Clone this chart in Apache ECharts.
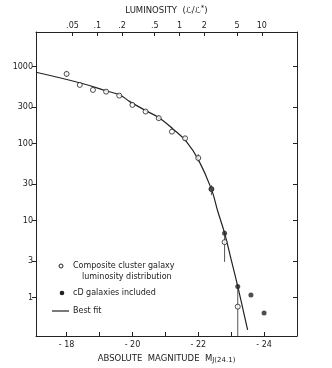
<!DOCTYPE html>
<html>
<head>
<meta charset="utf-8">
<script src="https://cdn.jsdelivr.net/npm/echarts@6/dist/echarts.min.js"></script>
<style>
  html, body { margin: 0; padding: 0; background: #fff; }
  #chart { width: 332px; height: 368px; }
</style>
</head>
<body>
<div id="chart"></div>
<script>
// 星系团合成光度函数 (open) 与含 cD 星系 (filled)
const magBins = [-18.0, -18.4, -18.8, -19.2, -19.6, -20.0, -20.4, -20.8, -21.2, -21.6, -22.0, -22.4, -22.8, -23.2];
const compositeN = [804, 578, 498, 473, 420, 318, 261, 214, 143, 117, 65, 25.6, 5.24, 0.76];
const cdMags = [-22.4, -22.8, -23.2, -23.6, -24.0];
const cdN = [25.6, 6.86, 1.39, 1.08, 0.63];

// 误差棒
const errMags = [-18.0, -20.8, -21.6, -22.0, -22.4, -22.8, -23.2];
const errLow = [740, 198, 108, 58, 21.4, 2.9, 0.316];
const errHigh = [870, 232, 126, 73, 28.8, 7.4, 1.39];

// 最佳拟合曲线
const fitM = [-17.07, -18.45, -19.24, -19.62, -19.92, -20.42, -20.83, -21.23, -21.64, -22.01, -22.4, -22.59, -22.8, -23.0, -23.2, -23.5];
const fitN = [845, 608, 479, 428, 351, 266, 214, 155, 106, 61, 25.6, 13.3, 6.86, 3.1, 1.39, 0.38];

// 坐标刻度
const magTicks = [-24, -23, -22, -21, -20, -19, -18];
const magLabels = [-24, -22, -20, -18];
const numTicks = [1, 3, 10, 30, 100, 300, 1000];
const mStar = -21.43;
const lumTicks = [0.05, 0.1, 0.2, 0.5, 1, 2, 5, 10];
const lumLabels = ['.05', '.1', '.2', '.5', '1', '2', '5', '10'];
const lumPos = lumTicks.map(L => mStar - 2.5 * Math.log10(L));

const ink = '#222';
const font = 'DejaVu Sans';

const chart = echarts.init(document.getElementById('chart'));

const xBase = {
  type: 'value',
  min: -25,
  max: -17.07,
  inverse: true,
  splitLine: { show: false },
  axisLine: { show: true, lineStyle: { color: ink, width: 1 } },
  axisTick: { show: true, inside: true, length: 4, lineStyle: { color: ink } },
};

const yBase = {
  type: 'log',
  logBase: 10,
  min: 0.316,
  max: 2818,
  splitLine: { show: false },
  minorTick: { show: false },
  axisLine: { show: true, lineStyle: { color: ink, width: 1 } },
};

chart.setOption({
  animation: false,
  backgroundColor: '#fff',
  grid: { left: 36, right: 35, top: 32, bottom: 32, containLabel: false, outerBoundsMode: 'none' },
  xAxis: [
    Object.assign({}, xBase, {
      position: 'bottom',
      axisTick: { show: true, inside: true, length: 4, customValues: magTicks, lineStyle: { color: ink } },
      axisLabel: {
        customValues: magLabels,
        margin: 5,
        color: ink, fontFamily: font, fontSize: 8,
        formatter: v => '- ' + Math.abs(v)
      },
      name: 'ABSOLUTE  MAGNITUDE  M{sub|J(24.1)}',
      nameLocation: 'middle',
      nameGap: 16,
      nameTextStyle: {
        color: ink, fontFamily: font, fontSize: 8.5,
        rich: { sub: { fontFamily: font, fontSize: 7, color: ink, padding: [4, 0, 0, 0] } }
      }
    }),
    Object.assign({}, xBase, {
      position: 'top',
      axisTick: { show: true, inside: true, length: 4, customValues: lumPos, lineStyle: { color: ink } },
      axisLabel: {
        customValues: lumPos,
        margin: 2,
        color: ink, fontFamily: font, fontSize: 8,
        formatter: v => {
          const i = lumPos.findIndex(p => Math.abs(p - v) < 1e-6);
          return i >= 0 ? lumLabels[i] : '';
        }
      },
      name: 'LUMINOSITY  (ℒ/ℒ{sup|*})',
      nameLocation: 'middle',
      nameGap: 15,
      nameTextStyle: {
        color: ink, fontFamily: font, fontSize: 8.5,
        rich: { sup: { fontFamily: font, fontSize: 7, color: ink, padding: [0, 0, 5, 0] } }
      }
    })
  ],
  yAxis: [
    Object.assign({}, yBase, {
      position: 'left',
      axisTick: { show: true, inside: false, length: 4, customValues: numTicks, lineStyle: { color: ink } },
      axisLabel: {
        customValues: numTicks,
        margin: 3,
        color: ink, fontFamily: font, fontSize: 8,
        formatter: v => String(Math.round(v))
      },
      name: 'NUMBER',
      nameLocation: 'middle',
      nameRotate: 90,
      nameGap: 23,
      nameTextStyle: { color: ink, fontFamily: font, fontSize: 7.5 }
    }),
    Object.assign({}, yBase, {
      position: 'right',
      axisTick: { show: true, inside: true, length: 4, customValues: numTicks, lineStyle: { color: ink } },
      axisLabel: { show: false }
    })
  ],
  series: [
    {
      name: 'Best fit',
      type: 'line',
      smooth: 0.4,
      symbol: 'none',
      lineStyle: { color: ink, width: 1.2 },
      data: fitM.map((m, i) => [m, fitN[i]]),
      z: 2
    },
    {
      name: 'errors',
      type: 'custom',
      renderItem: (params, api) => {
        const p1 = api.coord([api.value(0), api.value(1)]);
        const p2 = api.coord([api.value(0), api.value(2)]);
        return {
          type: 'line',
          shape: { x1: p1[0], y1: p1[1], x2: p2[0], y2: p2[1] },
          style: { stroke: '#555', lineWidth: 1 }
        };
      },
      encode: { x: 0, y: [1, 2] },
      data: errMags.map((m, i) => [m, errLow[i], errHigh[i]]),
      z: 3
    },
    {
      name: 'Composite cluster galaxy luminosity distribution',
      type: 'scatter',
      symbol: 'circle',
      symbolSize: 5,
      itemStyle: { color: '#fff', borderColor: ink, borderWidth: 1 },
      data: magBins.map((m, i) => [m, compositeN[i]]),
      z: 4
    },
    {
      name: 'cD galaxies included',
      type: 'scatter',
      symbol: 'circle',
      symbolSize: 5,
      itemStyle: { color: ink },
      data: cdMags.map((m, i) => [m, cdN[i]]),
      z: 5
    }
  ],
  graphic: [
    { type: 'circle', shape: { cx: 61, cy: 266, r: 2 }, style: { fill: '#fff', stroke: ink, lineWidth: 1 } },
    { type: 'text', x: 73, y: 266, style: { text: 'Composite cluster galaxy', font: '8px "DejaVu Sans"', fill: ink, verticalAlign: 'middle' } },
    { type: 'text', x: 82, y: 277, style: { text: 'luminosity distribution', font: '8px "DejaVu Sans"', fill: ink, verticalAlign: 'middle' } },
    { type: 'circle', shape: { cx: 62, cy: 293, r: 2.3 }, style: { fill: ink } },
    { type: 'text', x: 73, y: 293, style: { text: 'cD galaxies included', font: '8px "DejaVu Sans"', fill: ink, verticalAlign: 'middle' } },
    { type: 'line', shape: { x1: 52, y1: 311, x2: 69, y2: 311 }, style: { stroke: ink, lineWidth: 1.2 } },
    { type: 'text', x: 73, y: 311, style: { text: 'Best fit', font: '8px "DejaVu Sans"', fill: ink, verticalAlign: 'middle' } }
  ]
});
</script>
</body>
</html>
